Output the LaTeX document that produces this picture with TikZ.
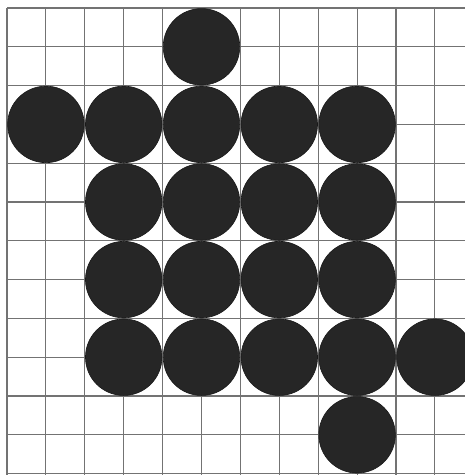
\documentclass[tikz,border=0pt]{standalone}
\begin{document}
\begin{tikzpicture}[x=1pt,y=-1pt,
  gridline/.style={draw=black!55,line width=1.1pt},
  dot/.style={circle,fill=black!85,draw=black!90,line width=0.6pt,minimum size=76.5pt,inner sep=0pt}]
\useasboundingbox (0,0) rectangle (465,475);
\clip (0,0) rectangle (465,475);
\foreach \i in {0,...,12} {
  \draw[gridline] ({7+38.9*\i},8) -- ({7+38.9*\i},480);
  \draw[gridline] (7,{8+38.8*\i}) -- (470,{8+38.8*\i});
}
\foreach \i/\j in {5/1, 1/3,3/3,5/3,7/3,9/3, 3/5,5/5,7/5,9/5, 3/7,5/7,7/7,9/7, 3/9,5/9,7/9,9/9,11/9, 9/11} {
  \node[dot] (c\i-\j) at ({7+38.9*\i},{8+38.8*\j}) {};
}
\end{tikzpicture}
\end{document}
